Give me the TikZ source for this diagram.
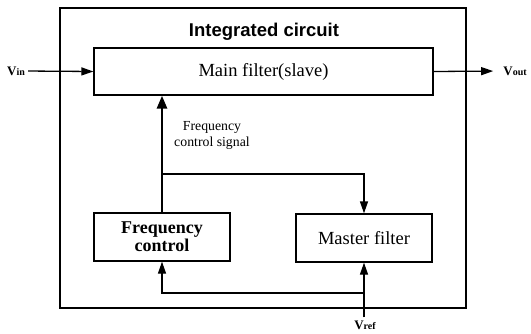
\documentclass[tikz,border=0pt]{standalone}
\usepackage{fontspec}
\setmainfont{Liberation Serif}
\newfontfamily\titlefont{Liberation Sans}
\usetikzlibrary{arrows.meta}
\tikzset{
  blk/.style={draw, line width=1.3pt, inner sep=0pt, align=center},
  arr/.style={line width=1.3pt, -{Triangle[length=12pt,width=8pt]}},
  thickarr/.style={line width=2.8pt, -{Triangle[length=13pt,width=10pt]}},
  sig/.style={inner sep=0pt, font=\fontsize{13}{14}\selectfont\bfseries},
}
\newcommand{\sigsub}[1]{{\fontsize{10}{11}\selectfont #1}}
\begin{document}
\begin{tikzpicture}[x=1pt,y=-1pt]
\useasboundingbox (0,0) rectangle (531,333);
% outer integrated circuit box
\node[blk, minimum width=406pt, minimum height=300pt] (ic) at (263,158) {};
\node[font=\titlefont\fontsize{18.5}{20}\selectfont\bfseries, inner sep=0pt] (title) at (264,32) {Integrated circuit};
% blocks
\node[blk, minimum width=339pt, minimum height=47pt, font=\fontsize{18.5}{20}\selectfont] (main) at (263.5,71.5) {Main filter(slave)};
\node[blk, minimum width=136pt, minimum height=48pt, font=\fontsize{18}{20}\selectfont\bfseries] (freq) at (162,237) {Frequency\\[-2pt]control};
\node[blk, minimum width=136pt, minimum height=48pt, font=\fontsize{18.5}{20}\selectfont] (master) at (364,238) {Master filter};
% label
\node[inner sep=0pt, align=center, font=\fontsize{13.8}{16}\selectfont] (fcs) at (212,135) {Frequency\\control signal};
% signal labels
\node[sig] (vin) at (16,71) {V\sigsub{in}};
\node[sig] (vout) at (515,71) {V\sigsub{out}};
\node[sig] (vref) at (365,325) {V\sigsub{ref}};
% connectors
\draw[arr, shorten <=3pt] (vin.east) -- (main.west);
\draw[arr, shorten >=10pt] (main.east) -- (vout.west);
\draw[thickarr] (freq.north) -- (freq.north |- main.south);
\coordinate (br) at (162,174);
\draw[arr] (br) -- (br -| master.north) -- (master.north);
\draw[arr, shorten <=3pt] (vref.north -| master.south) -- (master.south);
\coordinate (fb) at (364,293);
\draw[arr] (fb) -- (fb -| freq.south) -- (freq.south);
\end{tikzpicture}
\end{document}
